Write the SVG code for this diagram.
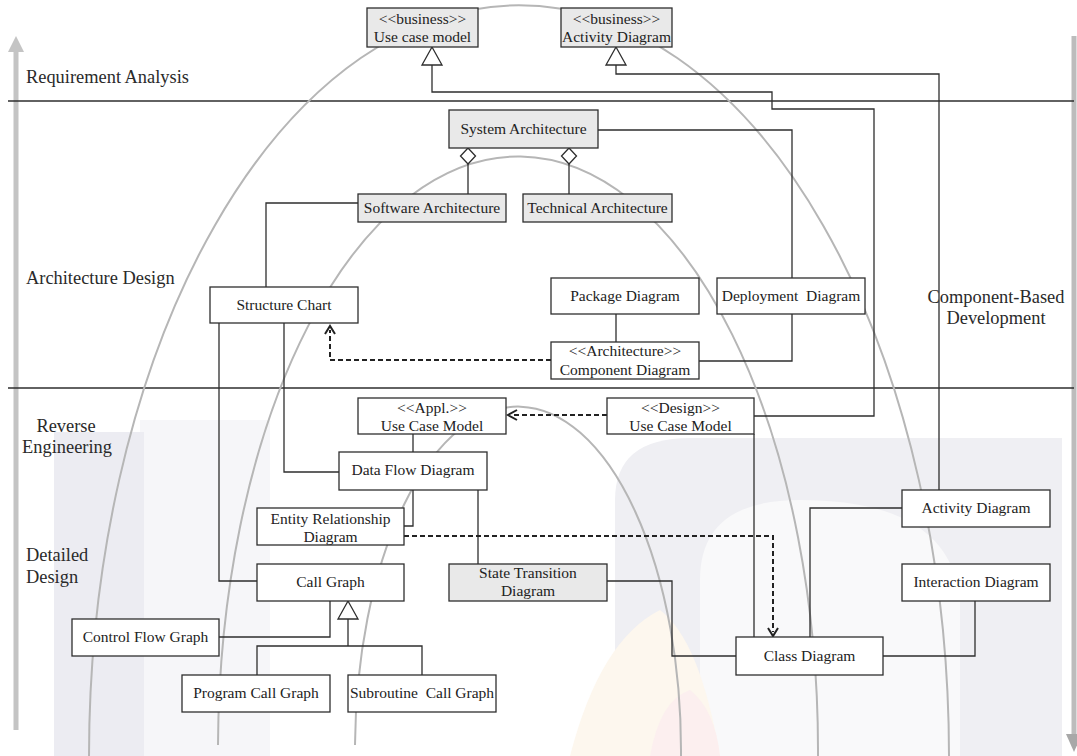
<svg xmlns="http://www.w3.org/2000/svg" width="1077" height="756" viewBox="0 0 1077 756">
<style>
.box{stroke:#2e2e2e;stroke-width:1.3;fill:#ffffff}
.gray{fill:#e9e9e9}
.t{font-family:"Liberation Serif","Times New Roman",serif;font-size:15.5px;fill:#222;text-anchor:middle}
.lbl{font-family:"Liberation Serif","Times New Roman",serif;font-size:18.4px;fill:#2a2a2a}
.ln{fill:none;stroke:#2e2e2e;stroke-width:1.3}
.dash{fill:none;stroke:#222;stroke-width:2;stroke-dasharray:5 3}
.arc{fill:none;stroke:#b6b6b6;stroke-width:2}
.hollow{fill:#ffffff;stroke:#2e2e2e;stroke-width:1.3}
.chev{fill:none;stroke:#222;stroke-width:2}
</style>
<rect width="1077" height="756" fill="#ffffff"/>
<g id="watermark">
<rect x="140" y="420" width="130" height="336" fill="#f6f6f9"/>
<rect x="54" y="432" width="90" height="324" fill="#ececf2"/>
<path d="M615,756 V500 Q615,438 690,438 H1062 V756 Z" fill="#efeff3"/>
<path d="M700,756 V580 Q700,500 800,500 Q950,500 960,600 V756 Z" fill="#f9f9fa"/>
<path d="M570,756 Q600,640 660,610 Q700,640 720,756 Z" fill="#fdf7ee"/>
<path d="M650,756 Q660,700 690,690 Q715,710 720,756 Z" fill="#fcefef"/>
</g>
<g id="axes">
<line x1="16" y1="50" x2="16" y2="730" stroke="#c4c4c4" stroke-width="5"/>
<polygon points="16,36 8,52 24,52" fill="#c4c4c4"/>
<line x1="1074" y1="36" x2="1074" y2="735" stroke="#bcbcbc" stroke-width="5"/>
<polygon points="1074,752 1066,734 1082,734" fill="#a8a8a8"/>
<line x1="8" y1="101" x2="1074" y2="101" class="ln"/>
<line x1="8" y1="388" x2="1074" y2="388" class="ln"/>
</g>
<g id="arcs">
<path class="arc" d="M89,756 A430,751 0 0 1 949,756"/>
<path class="arc" d="M218,745 A300,594 0 0 1 818,756"/>
<path class="arc" d="M355,745 A163,344 0 0 1 681,756"/>
</g>
<g id="labels">
<text class="lbl" x="26" y="83">Requirement Analysis</text>
<text class="lbl" x="26" y="284">Architecture Design</text>
<text class="lbl" x="66" y="432" text-anchor="middle">Reverse</text>
<text class="lbl" x="67" y="453" text-anchor="middle">Engineering</text>
<text class="lbl" x="26" y="561">Detailed</text>
<text class="lbl" x="26" y="583">Design</text>
<text class="lbl" x="996" y="303" text-anchor="middle">Component-Based</text>
<text class="lbl" x="996" y="324" text-anchor="middle">Development</text>
</g>
<g id="connectors">
<path class="ln" d="M754,416 H874 V109 H772 V92 H432 V65"/>
<polygon class="hollow" points="432,47 422,65 442,65"/>
<path class="ln" d="M939,490 V74 H616 V65"/>
<polygon class="hollow" points="616,47 606,65 626,65"/>
<path class="ln" d="M598,130 H792 V278"/>
<path class="ln" d="M792,314 V361 H699"/>
<path class="ln" d="M468,194 V164"/>
<polygon class="hollow" points="468,148 475.5,156 468,164 460.5,156"/>
<path class="ln" d="M569,194 V164"/>
<polygon class="hollow" points="569,148 576.5,156 569,164 561.5,156"/>
<path class="ln" d="M358,203 H266 V287"/>
<path class="ln" d="M616,314 V342"/>
<path class="dash" d="M551,360 H330 V330"/>
<path class="chev" d="M325,334 L330,326 L335,334"/>
<path class="ln" d="M219,323 V581 H257"/>
<path class="ln" d="M284,323 V472 H339"/>
<path class="dash" d="M607,415 H511"/>
<path class="chev" d="M517,410 L508,415 L517,420"/>
<path class="ln" d="M413,434 V452"/>
<path class="ln" d="M413,490 V526 H404"/>
<path class="ln" d="M478,490 V564"/>
<path class="dash" d="M404,536 H773 V632"/>
<path class="chev" d="M768,628 L773,636 L778,628"/>
<path class="ln" d="M348,619 V646"/>
<path class="ln" d="M257,675 V646 H422 V675"/>
<polygon class="hollow" points="348,601 338,619 358,619"/>
<path class="ln" d="M219,637 H330 V601"/>
<path class="ln" d="M607,581 H672 V656 H736"/>
<path class="ln" d="M883,656 H975 V601"/>
<path class="ln" d="M902,508 H810 V637"/>
<path class="ln" d="M754,434 V637"/>
</g>
<g id="bizUseCase"><rect class="box gray" x="367" y="8" width="111" height="39"/><text class="t" x="422.5" y="24">&lt;&lt;business&gt;&gt;</text><text class="t" x="422.5" y="42">Use case model</text></g>
<g id="bizActivity"><rect class="box gray" x="561" y="8" width="111" height="39"/><text class="t" x="616.5" y="24">&lt;&lt;business&gt;&gt;</text><text class="t" x="616.5" y="42">Activity Diagram</text></g>
<g id="sysArch"><rect class="box gray" x="449" y="110" width="149" height="38"/><text class="t" x="523.5" y="134">System Architecture</text></g>
<g id="swArch"><rect class="box gray" x="358" y="194" width="148" height="28"/><text class="t" x="432" y="213">Software Architecture</text></g>
<g id="techArch"><rect class="box gray" x="523" y="194" width="149" height="28"/><text class="t" x="597.5" y="213">Technical Architecture</text></g>
<g id="structChart"><rect class="box" x="210" y="287" width="148" height="36"/><text class="t" x="284" y="310">Structure Chart</text></g>
<g id="pkgDiag"><rect class="box" x="551" y="278" width="148" height="36"/><text class="t" x="625" y="301">Package Diagram</text></g>
<g id="deployDiag"><rect class="box" x="717" y="278" width="148" height="36"/><text class="t" x="791" y="301" xml:space="preserve">Deployment  Diagram</text></g>
<g id="compDiag"><rect class="box" x="551" y="342" width="148" height="37"/><text class="t" x="625" y="356">&lt;&lt;Architecture&gt;&gt;</text><text class="t" x="625" y="375">Component Diagram</text></g>
<g id="applUCM"><rect class="box" x="358" y="398" width="148" height="36"/><text class="t" x="432" y="413">&lt;&lt;Appl.&gt;&gt;</text><text class="t" x="432" y="431">Use Case Model</text></g>
<g id="designUCM"><rect class="box" x="607" y="398" width="147" height="36"/><text class="t" x="680.5" y="413">&lt;&lt;Design&gt;&gt;</text><text class="t" x="680.5" y="431">Use Case Model</text></g>
<g id="dfd"><rect class="box" x="339" y="452" width="148" height="38"/><text class="t" x="413" y="475">Data Flow Diagram</text></g>
<g id="erd"><rect class="box" x="257" y="508" width="147" height="37"/><text class="t" x="330.5" y="524">Entity Relationship</text><text class="t" x="330.5" y="542">Diagram</text></g>
<g id="callGraph"><rect class="box" x="257" y="564" width="147" height="37"/><text class="t" x="330.5" y="587">Call Graph</text></g>
<g id="stateTrans"><rect class="box gray" x="449" y="564" width="158" height="37"/><text class="t" x="528" y="578">State Transition</text><text class="t" x="528" y="596">Diagram</text></g>
<g id="cfg"><rect class="box" x="72" y="619" width="147" height="37"/><text class="t" x="145.5" y="642">Control Flow Graph</text></g>
<g id="progCall"><rect class="box" x="182" y="675" width="148" height="37"/><text class="t" x="256" y="698">Program Call Graph</text></g>
<g id="subCall"><rect class="box" x="348" y="675" width="148" height="37"/><text class="t" x="422" y="698" xml:space="preserve">Subroutine  Call Graph</text></g>
<g id="classDiag"><rect class="box" x="736" y="637" width="147" height="38"/><text class="t" x="809.5" y="661">Class Diagram</text></g>
<g id="activity"><rect class="box" x="902" y="490" width="148" height="37"/><text class="t" x="976" y="513">Activity Diagram</text></g>
<g id="interaction"><rect class="box" x="902" y="564" width="148" height="37"/><text class="t" x="976" y="587">Interaction Diagram</text></g>
</svg>
